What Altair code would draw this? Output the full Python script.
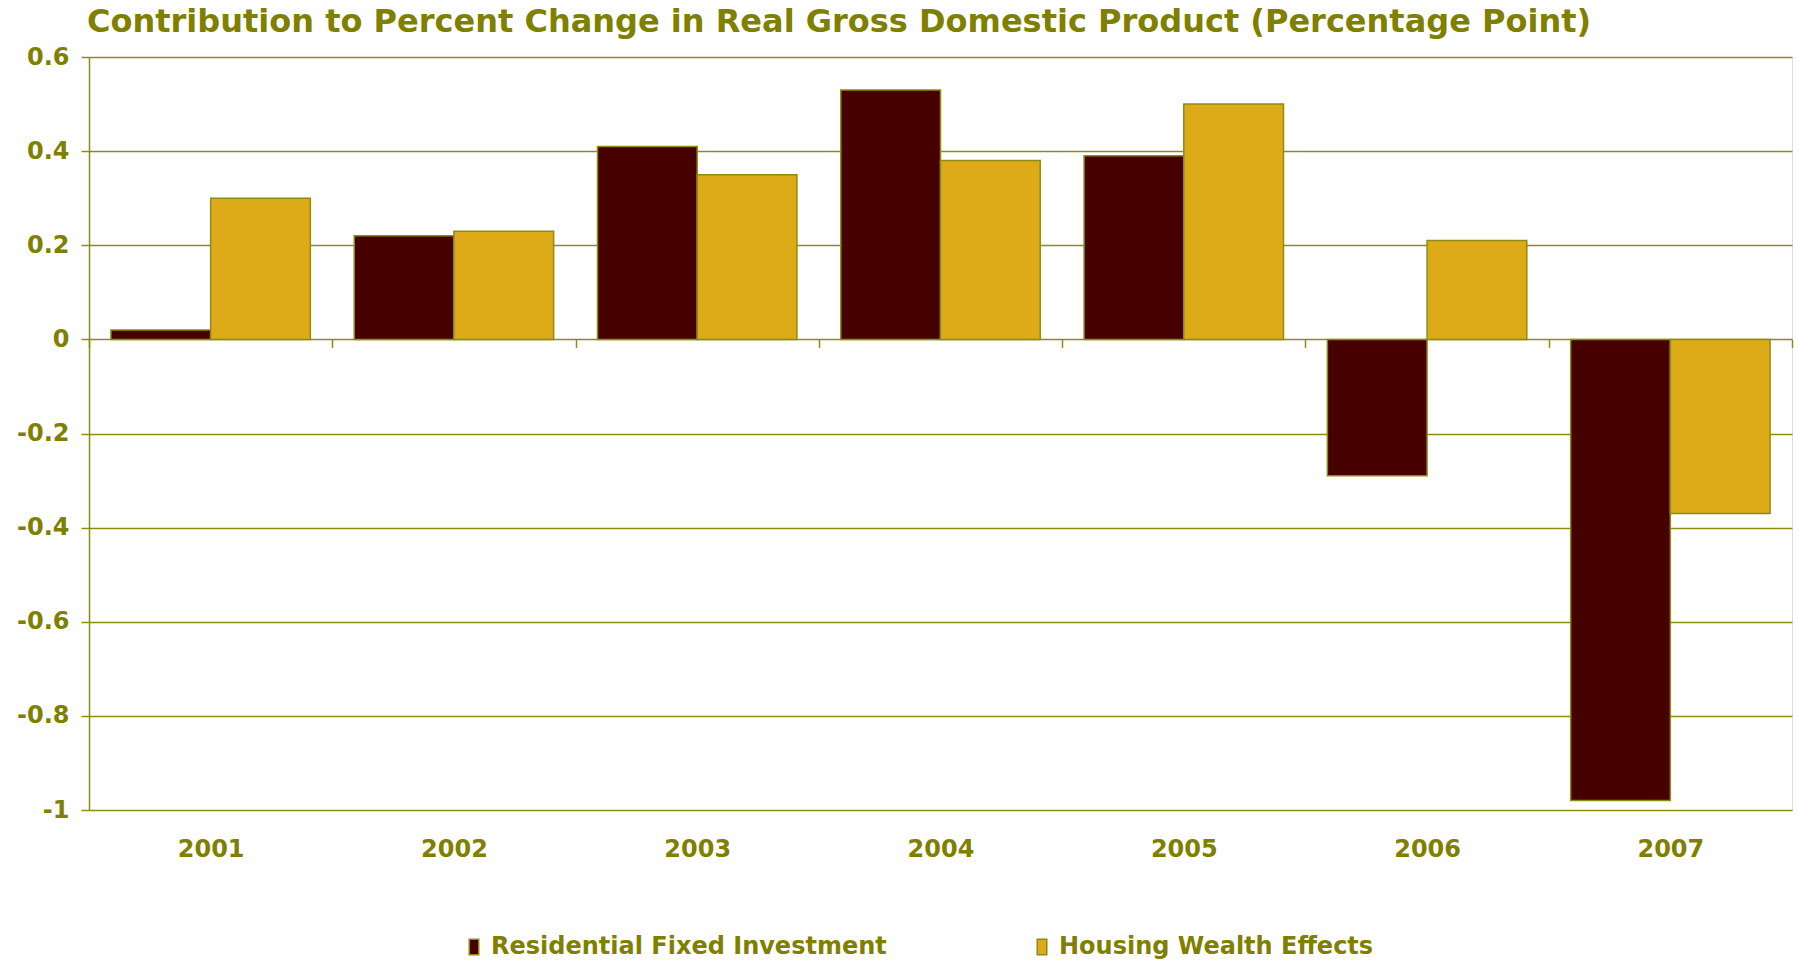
import altair as alt
import pandas as pd

years = ["2001", "2002", "2003", "2004", "2005", "2006", "2007"]
residential = [0.02, 0.22, 0.41, 0.53, 0.39, -0.29, -0.98]
housing = [0.30, 0.23, 0.35, 0.38, 0.50, 0.21, -0.37]
series = ["Residential Fixed Investment", "Housing Wealth Effects"]
colors = ["#460000", "#DDAA18"]
y_ticks = [0.6, 0.4, 0.2, 0, -0.2, -0.4, -0.6, -0.8, -1]

rows = []
for i, yr in enumerate(years):
    rows.append({"year": yr, "series": series[0], "value": residential[i]})
    rows.append({"year": yr, "series": series[1], "value": housing[i]})
df = pd.DataFrame(rows)

OLIVE = "#808000"
LINE = "#8C8C14"
FONT = "DejaVu Sans"

W, H = 1703, 753
zero_from_bottom = H * 1.0 / 1.6

chart = alt.Chart(df).mark_bar(stroke=LINE, strokeWidth=1.5).encode(
    x=alt.X("year:N", sort=years, title=None,
            scale=alt.Scale(paddingInner=0, paddingOuter=0),
            axis=alt.Axis(orient="bottom", offset=-zero_from_bottom, domain=False,
                          ticks=True, tickBand="extent", tickSize=8, tickColor=LINE,
                          tickWidth=1.5, labelAngle=0, labelPadding=490,
                          labelFont=FONT, labelFontSize=24, labelFontWeight="bold",
                          labelColor=OLIVE, grid=False)),
    xOffset=alt.XOffset("series:N", sort=series,
                        scale=alt.Scale(paddingInner=0, paddingOuter=0.22)),
    y=alt.Y("value:Q", title=None,
            scale=alt.Scale(domain=[-1, 0.6], nice=False, zero=False),
            axis=alt.Axis(values=y_ticks, domain=True, domainColor=LINE, domainWidth=1.5,
                          ticks=True, tickSize=8, tickColor=LINE, tickWidth=1.5,
                          grid=True, gridColor=LINE, gridWidth=1.5,
                          labelExpr="toString(round(datum.value*10)/10)",
                          labelFont=FONT, labelFontSize=24, labelFontWeight="bold",
                          labelColor=OLIVE, labelPadding=12)),
    color=alt.Color("series:N", sort=series, title=None,
                    scale=alt.Scale(domain=series, range=colors),
                    legend=alt.Legend(orient="none", legendX=373, legendY=878,
                                      direction="horizontal", columns=2,
                                      symbolType="M-0.55,-0.9H0.55V0.9H-0.55Z",
                                      symbolSize=300, symbolStrokeColor=LINE,
                                      symbolStrokeWidth=1.5, symbolOpacity=1,
                                      labelFont=FONT, labelFontSize=24,
                                      labelFontWeight="bold", labelColor=OLIVE,
                                      labelOffset=5, columnPadding=143,
                                      labelLimit=700)),
).properties(
    width=W, height=H,
    title=alt.TitleParams(
        "Contribution to Percent Change in Real Gross Domestic Product (Percentage Point)",
        anchor="start", frame="group", font=FONT, fontSize=32, fontWeight="bold",
        color=OLIVE, offset=6, dx=-2),
    autosize=alt.AutoSizeParams(type="none"),
    padding={"left": 89, "top": 57, "right": 7, "bottom": 152},
).configure_view(stroke="#9A9A8A", strokeWidth=1.5).configure(background="white")

chart.save("out.html", embed_options={"renderer": "svg", "actions": False})
